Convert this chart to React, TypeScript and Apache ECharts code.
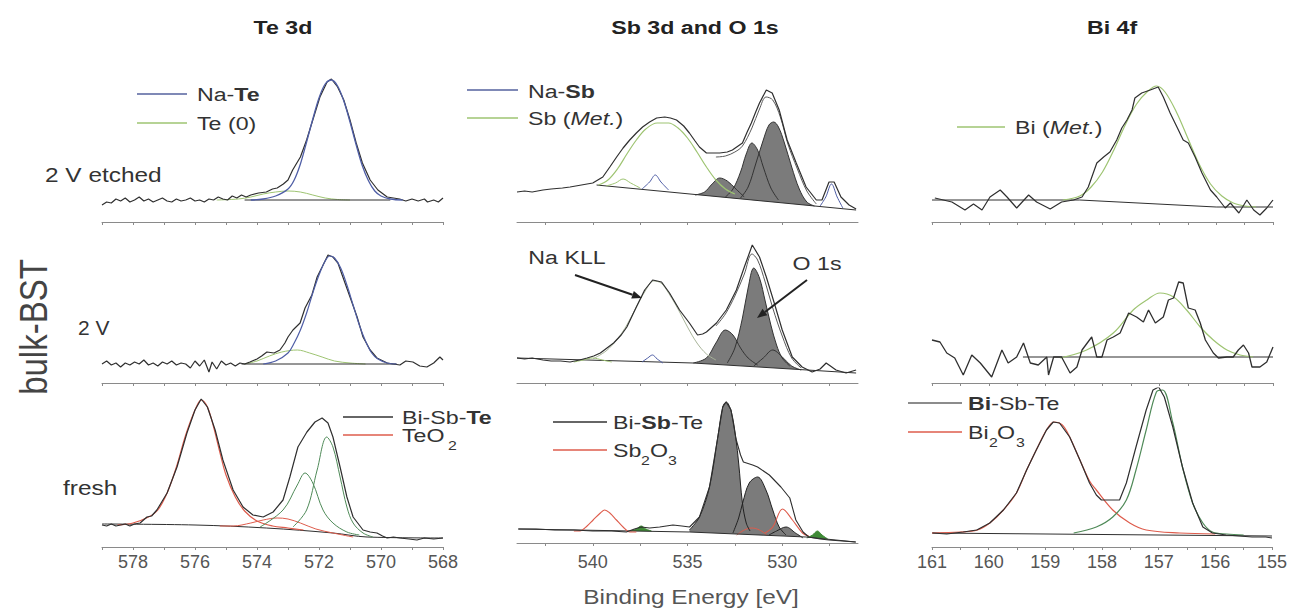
import React, { useEffect, useRef } from 'react';
import * as echarts from 'echarts';

// ---------------- axes ----------------
const teTicks = [568, 569, 570, 571, 572, 573, 574, 575, 576, 577, 578, 579];
const teLabels = [568, 570, 572, 574, 576, 578];
const sbTicks = [527.5, 530, 532.5, 535, 537.5, 540, 542.5];
const sbLabels = [530, 535, 540];
const biTicks = [155, 155.5, 156, 156.5, 157, 157.5, 158, 158.5, 159, 159.5, 160, 160.5, 161];
const biLabels = [155, 156, 157, 158, 159, 160, 161];

const columnTitles = ['Te 3d', 'Sb 3d and O 1s', 'Bi 4f'];
const rowLabels = ['2 V etched', '2 V', 'fresh'];

// ---------------- Te 3d, 2 V etched ----------------
const teEtchedMeasured = [
  [579.0, 17], [578.85, 20], [578.7, 19], [578.55, 23], [578.4, 21], [578.25, 24], [578.1, 20], [577.95, 22],
  [577.8, 25], [577.65, 21], [577.5, 23], [577.35, 20], [577.2, 22], [577.05, 24], [576.9, 21], [576.75, 20],
  [576.6, 23], [576.45, 21], [576.3, 22], [576.15, 24], [576.0, 21], [575.85, 22], [575.7, 20], [575.55, 23],
  [575.4, 22], [575.25, 25], [575.1, 23], [574.95, 22], [574.8, 26], [574.65, 24], [574.5, 27], [574.35, 25],
  [574.2, 27], [573.95, 29], [573.7, 30], [573.5, 33], [573.35, 34], [573.15, 38], [573.0, 42], [572.85, 52],
  [572.6, 65], [572.4, 82], [572.2, 102], [571.97, 125], [571.74, 140], [571.6, 143], [571.4, 135], [571.2, 122],
  [571.0, 102], [570.8, 79], [570.6, 59], [570.35, 42], [570.1, 32], [569.8, 25], [569.6, 24], [569.4, 23],
  [569.2, 21], [569.0, 23], [568.8, 21], [568.6, 23], [568.5, 20], [568.3, 22], [568.15, 20], [568.0, 24],
];
const teEtchedNaTe = [
  [574.2, 22], [573.8, 23], [573.4, 26], [573.0, 33], [572.8, 42], [572.6, 58], [572.4, 80], [572.2, 103],
  [572.0, 124], [571.8, 138], [571.6, 142], [571.4, 136], [571.2, 121], [571.0, 100], [570.8, 77], [570.6, 56],
  [570.4, 41], [570.2, 31], [570.0, 26], [569.7, 23], [569.3, 22],
];
const teEtchedTe0 = [
  [575.3, 22], [574.6, 23], [574.2, 25], [573.8, 28], [573.4, 30], [573.0, 31], [572.6, 30], [572.2, 27],
  [571.8, 24], [571.4, 22.5], [571.0, 22],
];
const teEtchedBackground = [[574.4, 22], [569.7, 22]];

// ---------------- Te 3d, 2 V ----------------
const te2vMeasured = [
  [579.0, 19], [578.85, 22], [578.7, 18], [578.55, 20], [578.4, 16], [578.25, 20], [578.1, 18], [577.95, 21],
  [577.8, 19], [577.65, 23], [577.5, 18], [577.35, 20], [577.2, 17], [577.05, 21], [576.9, 19], [576.75, 22],
  [576.6, 18], [576.45, 20], [576.3, 19], [576.15, 15], [576.0, 22], [575.85, 17], [575.7, 23], [575.55, 11],
  [575.45, 21], [575.3, 14], [575.15, 22], [575.0, 18], [574.85, 20], [574.7, 17], [574.55, 20], [574.4, 19],
  [574.23, 21], [574.0, 24], [573.85, 27], [573.68, 31], [573.45, 30], [573.26, 33], [573.1, 40], [573.0, 46],
  [572.84, 53], [572.61, 60], [572.45, 75], [572.23, 88], [572.06, 106], [571.9, 116], [571.71, 128], [571.55, 126],
  [571.39, 120], [571.23, 106], [571.0, 86], [570.77, 66], [570.58, 46], [570.35, 33], [570.13, 25], [569.8, 20],
  [569.6, 19], [569.39, 18], [569.2, 22], [568.97, 21], [568.75, 17], [568.52, 16], [568.3, 20], [568.1, 26], [568.0, 23],
];
const te2vNaTe = [
  [573.8, 19], [573.4, 22], [573.0, 30], [572.8, 40], [572.6, 53], [572.4, 70], [572.2, 90], [572.0, 108],
  [571.8, 122], [571.65, 127], [571.5, 125], [571.3, 115], [571.1, 98], [570.9, 78], [570.7, 58], [570.5, 42],
  [570.3, 30], [570.1, 24], [569.8, 20], [569.5, 19],
];
const te2vTe0 = [
  [574.4, 19], [574.0, 22], [573.6, 27], [573.2, 31], [572.7, 33], [572.3, 30], [571.9, 26], [571.5, 22],
  [571.0, 20], [570.5, 19],
];
const te2vBackground = [[574.5, 19], [569.5, 19]];

// ---------------- Te 3d, fresh ----------------
const teFreshMeasured = [
  [579.0, 22], [578.85, 21], [578.7, 23], [578.55, 21], [578.4, 22], [578.25, 23], [578.1, 21], [577.95, 23],
  [577.77, 24], [577.55, 30], [577.4, 31], [577.23, 37], [576.9, 54], [576.58, 80], [576.26, 114], [576.0, 137],
  [575.8, 148], [575.6, 140], [575.35, 117], [575.1, 87], [574.77, 57], [574.45, 40], [574.13, 32], [573.8, 30],
  [573.48, 35], [573.16, 47], [572.94, 70], [572.68, 100], [572.39, 115], [572.13, 125], [571.9, 129], [571.71, 124],
  [571.55, 110], [571.32, 80], [571.1, 50], [570.9, 30], [570.58, 17], [570.35, 15], [570.13, 14], [569.95, 11],
  [569.8, 9], [569.6, 10], [569.39, 9], [569.1, 8], [568.84, 7], [568.6, 9], [568.3, 8], [568.0, 9],
];
const teFreshTeO2 = [
  [578.5, 22], [578.0, 24], [577.5, 30], [577.2, 37], [576.9, 54], [576.6, 80], [576.3, 112], [576.0, 137],
  [575.8, 147], [575.6, 140], [575.4, 120], [575.2, 95], [575.0, 72], [574.7, 50], [574.4, 36], [574.0, 26],
  [573.5, 21], [573.0, 19], [572.5, 17],
];
const teFreshTeO2Minor = [
  [575.2, 21], [574.77, 21], [574.2, 24], [573.8, 27], [573.35, 29], [573.0, 28], [572.6, 24], [572.1, 18],
  [571.55, 14], [570.9, 10],
];
const teFreshBstA = [
  [573.9, 20], [573.16, 37], [572.7, 62], [572.45, 74], [572.2, 64], [571.87, 37], [571.55, 24], [571.1, 15], [570.7, 12],
];
const teFreshBstB = [
  [572.84, 20], [572.4, 37], [572.06, 77], [571.75, 110], [571.55, 100], [571.32, 70], [571.1, 40], [570.9, 24],
  [570.58, 14], [570.26, 10],
];
const teFreshBackground = [[579.0, 23], [576.0, 22], [573.7, 19], [571.55, 14], [570.45, 10], [568.0, 9]];

// ---------------- Sb 3d / O 1s, 2 V etched ----------------
const sbEtchedMeasured = [
  [544.0, 30], [543.6, 31], [543.2, 30], [542.63, 32], [542.2, 33], [541.6, 34], [541.2, 35], [540.6, 37],
  [540.0, 39], [539.47, 45], [539.1, 55], [538.74, 65], [538.4, 74], [538.05, 82], [537.7, 89], [537.37, 95],
  [537.0, 100], [536.63, 104], [536.2, 105], [535.9, 104], [535.58, 102], [535.2, 96], [534.9, 89], [534.6, 81],
  [534.37, 75], [534.0, 69], [533.6, 69], [533.3, 69], [532.9, 70], [532.63, 72], [532.1, 79], [531.85, 90],
  [531.63, 99], [531.4, 110], [531.2, 119], [530.84, 132], [530.53, 129], [530.16, 112], [529.74, 82], [529.26, 59],
  [528.74, 35], [528.2, 22], [527.9, 22], [527.53, 40], [527.26, 40], [526.9, 25], [526.47, 17], [526.1, 13],
];
const sbEtchedEnvelope = [
  [533.5, 65], [533.0, 66], [532.5, 70], [532.1, 76], [531.6, 94], [531.2, 113], [530.85, 125], [530.5, 122],
  [530.1, 105], [529.7, 78], [529.2, 53], [528.7, 31], [528.2, 18],
];
const sbEtchedSbMet = [
  [539.7, 37], [539.2, 42], [538.7, 53], [538.2, 68], [537.7, 82], [537.2, 93], [536.6, 99], [536.0, 99],
  [535.5, 94], [535.0, 84], [534.5, 70], [534.0, 55], [533.5, 42], [533.0, 33], [532.5, 28],
];
const sbEtchedSbMetMinor = [[539.3, 36], [538.8, 39], [538.4, 43], [538.0, 39], [537.5, 34]];
const sbEtchedNaSb = [[537.4, 33], [537.0, 40], [536.7, 47], [536.4, 40], [536.0, 32]];
const sbEtchedNaSbMinor = [[528.0, 16], [527.7, 25], [527.4, 38], [527.1, 25], [526.8, 14]];
const sbEtchedO1sA = [[534.6, 27], [534.1, 30], [533.7, 38], [533.3, 44], [532.9, 41], [532.5, 34], [532.0, 25]];
const sbEtchedO1sB = [
  [533.0, 25], [532.6, 33], [532.2, 50], [531.9, 68], [531.6, 79], [531.3, 72], [531.0, 55], [530.6, 34], [530.2, 22],
];
const sbEtchedO1sC = [
  [532.2, 24], [531.8, 35], [531.4, 58], [531.0, 82], [530.7, 97], [530.45, 100], [530.2, 95], [529.9, 80],
  [529.5, 55], [529.1, 33], [528.7, 20], [528.3, 16],
];
const sbEtchedBackground = [[539.8, 37], [526.1, 12]];

// ---------------- Sb 3d / O 1s, 2 V ----------------
const sb2vMeasured = [
  [544.0, 25], [543.6, 24], [543.2, 25], [542.63, 23], [542.2, 22], [541.7, 22], [541.2, 21], [540.7, 23],
  [540.3, 25], [539.95, 27], [539.6, 30], [538.9, 40], [538.5, 48], [538.2, 56], [537.7, 76], [537.26, 93],
  [536.84, 103], [536.6, 102], [536.37, 101], [535.95, 90], [535.42, 73], [534.9, 60], [534.47, 48], [534.2, 49],
  [534.0, 51], [533.47, 60], [532.95, 73], [532.42, 93], [532.0, 116], [531.58, 138], [531.2, 126], [530.84, 106],
  [530.42, 80], [530.0, 53], [529.47, 26], [528.95, 16], [528.42, 11], [528.0, 14], [527.68, 20], [527.16, 13],
  [526.63, 10], [526.1, 13],
];
const sb2vEnvelope = [
  [533.5, 57], [533.0, 69], [532.5, 87], [532.0, 109], [531.6, 129], [531.3, 123], [530.9, 101], [530.5, 75],
  [530.0, 47], [529.5, 25], [529.0, 15],
];
const sb2vNaKLL = [
  [540.0, 24], [539.3, 32], [538.7, 44], [538.2, 58], [537.7, 76], [537.2, 93], [536.8, 102], [536.4, 100],
  [536.0, 90], [535.5, 74], [535.0, 56], [534.5, 40], [534.0, 29], [533.5, 23],
];
const sb2vSbMet = [[541.0, 21], [540.5, 23], [540.0, 25], [539.5, 23], [539.0, 21]];
const sb2vNaSb = [[537.4, 21], [537.1, 25], [536.85, 28], [536.6, 24], [536.3, 20]];
const sb2vO1sA = [[534.7, 20], [534.0, 25], [533.5, 40], [533.0, 53], [532.6, 48], [532.2, 35], [531.8, 25], [531.3, 18]];
const sb2vO1sB = [
  [532.9, 20], [532.5, 35], [532.1, 65], [531.8, 95], [531.5, 115], [531.2, 105], [530.9, 82], [530.6, 58],
  [530.3, 38], [530.0, 25], [529.6, 17],
];
const sb2vO1sC = [[531.5, 17], [531.0, 25], [530.5, 33], [530.0, 26], [529.5, 17], [529.0, 13]];
const sb2vBackground = [[544.0, 25], [534.7, 20], [526.1, 10]];

// ---------------- Sb 3d / O 1s, fresh ----------------
const sbFreshMeasured = [
  [543.93, 14], [543.0, 14], [542.0, 13], [541.0, 13], [540.0, 12], [539.0, 12], [538.23, 11], [537.8, 14],
  [537.44, 16], [537.0, 15], [536.47, 16], [535.77, 18], [535.3, 17], [534.89, 16], [534.37, 26], [533.84, 56],
  [533.4, 106], [533.14, 136], [532.96, 141], [532.7, 133], [532.44, 104], [532.2, 88], [532.05, 81], [531.56, 78],
  [531.3, 76], [530.68, 68], [530.07, 56], [529.6, 45], [529.28, 23], [528.9, 11], [528.6, 6], [528.0, 4],
  [527.53, 3], [526.12, 1],
];
const sbFreshBstA = [
  [534.9, 13], [534.37, 26], [533.84, 56], [533.4, 106], [533.14, 136], [532.96, 141], [532.7, 132], [532.45, 105],
  [532.3, 80], [532.1, 40], [531.9, 20], [531.7, 12],
];
const sbFreshBstB = [
  [532.6, 10], [532.3, 25], [532.09, 40], [531.74, 60], [531.3, 66], [530.86, 53], [530.5, 33], [530.16, 16], [529.8, 8],
];
const sbFreshBstC = [[530.7, 8], [530.3, 12], [529.8, 16], [529.3, 10], [528.9, 5]];
const sbFreshSb2O3 = [
  [541.0, 12], [540.68, 12], [540.3, 17], [539.98, 23], [539.6, 30], [539.37, 33], [539.1, 30], [538.75, 23],
  [538.4, 16], [538.05, 11], [537.7, 11],
];
const sbFreshSb2O3Minor = [[530.9, 10], [530.5, 16], [529.98, 34], [529.46, 23], [528.93, 10], [528.6, 7]];
const sbFreshPink = [[532.4, 8], [532.0, 13], [531.6, 15], [531.2, 13], [530.8, 8]];
const sbFreshGreenA = [[538.0, 12], [537.7, 14], [537.44, 17], [537.2, 14], [536.9, 12]];
const sbFreshGreenB = [[528.7, 5], [528.4, 8], [528.14, 12], [527.9, 8], [527.6, 4]];
const sbFreshBackground = [[543.93, 14], [534.89, 11], [528.75, 6], [526.12, 1]];

// ---------------- Bi 4f, 2 V etched ----------------
const biEtchedMeasured = [
  [160.95, 24], [160.65, 20], [160.42, 12], [160.27, 18], [160.12, 12], [159.98, 25], [159.8, 32], [159.68, 25],
  [159.51, 14], [159.3, 27], [159.16, 20], [158.92, 13], [158.72, 20], [158.51, 22], [158.36, 25], [158.25, 35],
  [158.1, 59], [157.98, 65], [157.87, 70], [157.75, 82], [157.66, 94], [157.57, 102], [157.48, 112], [157.43, 124],
  [157.31, 129], [157.16, 132], [157.02, 135], [156.93, 125], [156.81, 109], [156.69, 95], [156.58, 82], [156.49, 79],
  [156.37, 65], [156.25, 49], [156.1, 32], [155.99, 25], [155.84, 14], [155.75, 19], [155.6, 9], [155.46, 22],
  [155.34, 12], [155.23, 7], [155.11, 14], [155.0, 22],
];
const biEtchedBiMet = [
  [158.7, 22], [158.4, 26], [158.2, 35], [158.0, 50], [157.8, 72], [157.6, 97], [157.4, 118], [157.2, 131],
  [157.05, 136], [156.9, 130], [156.7, 110], [156.5, 84], [156.3, 58], [156.1, 38], [155.9, 26], [155.7, 19],
  [155.5, 16], [155.3, 15],
];
const biEtchedBackground = [[161.0, 22], [158.4, 22], [156.0, 15], [155.0, 15]];

// ---------------- Bi 4f, 2 V ----------------
const bi2vMeasured = [
  [161.0, 43], [160.86, 41], [160.74, 30], [160.6, 25], [160.45, 8], [160.3, 28], [160.15, 20], [159.95, 6],
  [159.77, 33], [159.66, 20], [159.51, 26], [159.39, 40], [159.27, 20], [159.13, 18], [158.98, 26], [158.95, 8],
  [158.86, 26], [158.72, 26], [158.57, 10], [158.45, 16], [158.36, 33], [158.19, 46], [158.1, 26], [158.01, 26],
  [157.92, 43], [157.81, 46], [157.69, 50], [157.54, 70], [157.4, 66], [157.28, 61], [157.19, 73], [157.07, 60],
  [156.93, 66], [156.84, 83], [156.75, 85], [156.66, 101], [156.58, 100], [156.49, 75], [156.37, 73], [156.28, 60],
  [156.19, 43], [156.05, 30], [155.96, 25], [155.81, 26], [155.7, 26], [155.61, 33], [155.52, 38], [155.43, 30],
  [155.37, 16], [155.23, 16], [155.11, 21], [155.0, 36],
];
const bi2vBiMet = [
  [158.75, 25], [158.28, 33], [157.81, 50], [157.46, 73], [157.22, 83], [156.99, 90], [156.75, 86], [156.52, 73],
  [156.28, 56], [156.05, 43], [155.81, 33], [155.58, 28], [155.35, 26],
];
const bi2vBackground = [[159.4, 26], [155.0, 26]];

// ---------------- Bi 4f, fresh ----------------
const biFreshMeasured = [
  [160.99, 14], [160.74, 13], [160.45, 15], [160.21, 17], [159.98, 24], [159.74, 37], [159.51, 54], [159.33, 77],
  [159.16, 97], [158.98, 117], [158.86, 125], [158.75, 124], [158.57, 110], [158.39, 87], [158.22, 64], [158.1, 52],
  [158.01, 47], [157.69, 47], [157.57, 64], [157.4, 100], [157.22, 137], [157.1, 157], [157.0, 160], [156.9, 150],
  [156.75, 120], [156.58, 80], [156.4, 44], [156.22, 20], [156.05, 14], [155.81, 12], [155.58, 11], [155.35, 10],
  [155.11, 10], [155.0, 9],
];
const biFreshBi2O3 = [
  [161.0, 14], [160.5, 15], [160.2, 17], [159.98, 24], [159.74, 37], [159.51, 54], [159.33, 77], [159.16, 97],
  [158.98, 117], [158.85, 125], [158.7, 122], [158.57, 110], [158.39, 87], [158.22, 66], [158.1, 57], [157.81, 37],
  [157.51, 24], [157.22, 17], [156.63, 14], [156.0, 13],
];
const biFreshBst = [
  [158.5, 14], [158.1, 20], [157.81, 30], [157.57, 47], [157.4, 77], [157.22, 117], [157.04, 155], [156.93, 157],
  [156.75, 124], [156.58, 80], [156.4, 44], [156.22, 24], [156.05, 15], [155.8, 13], [155.5, 12],
];
const biFreshBackground = [[161.0, 14], [155.0, 11]];

// ---------------- styling ----------------
const FONT = '"Liberation Sans", Arial, Helvetica, sans-serif';
const COL = {
  meas: '#2f2f2f',
  blue: '#4f5ea6',
  blueLegend: '#7f89b6',
  lgreen: '#9ec472',
  dgreen: '#4f8a58',
  red: '#de5c4c',
  gray: '#7b7b7b',
  pink: '#c98c96',
  fgreen: '#3f8a36',
  env: '#5a5a5a',
  axis: '#8a8a8a',
};
const COLUMNS = [
  { left: 102, min: 568, max: 579, ticks: teTicks, labels: teLabels },
  { left: 517, min: 526, max: 544, ticks: sbTicks, labels: sbLabels },
  { left: 932, min: 155, max: 161, ticks: biTicks, labels: biLabels },
];
const ROWS = [
  { top: 60, bottom: 222 },
  { top: 228, bottom: 383 },
  { top: 388, bottom: 547 },
];
const PANEL_W = 341;

function panelBottom(row: number, col: number) {
  if (row === 2 && col === 1) return 543;
  return ROWS[row].bottom;
}

function buildOption() {
  const grid: any[] = [];
  const xAxis: any[] = [];
  const yAxis: any[] = [];
  for (let r = 0; r < 3; r++) {
    for (let c = 0; c < 3; c++) {
      const col = COLUMNS[c];
      const bottom = panelBottom(r, c);
      const h = bottom - ROWS[r].top;
      const idx = r * 3 + c;
      grid.push({ left: col.left, top: ROWS[r].top, width: PANEL_W, height: h });
      xAxis.push({
        gridIndex: idx,
        type: 'value',
        inverse: true,
        min: col.min,
        max: col.max,
        z: 10,
        axisLine: { show: true, onZero: false, lineStyle: { color: COL.axis, width: 1 } },
        axisTick: { show: true, customValues: col.ticks, length: 3, inside: false, lineStyle: { color: COL.axis } },
        axisLabel: {
          show: r === 2,
          customValues: col.labels,
          fontSize: 18,
          fontFamily: FONT,
          color: '#555',
          margin: r === 2 && c === 1 ? 10 : 6,
        },
        splitLine: { show: false },
      });
      yAxis.push({ gridIndex: idx, type: 'value', min: 0, max: h, show: false });
    }
  }

  const series: any[] = [];
  const line = (g: number, data: number[][], color: string, width = 1, smooth = false, z = 3) => {
    series.push({
      type: 'line', xAxisIndex: g, yAxisIndex: g, data, symbol: 'none', showSymbol: false,
      smooth: smooth ? 0.35 : false, lineStyle: { color, width }, z, silent: true,
    });
  };
  const fill = (g: number, data: number[][], fillColor: string, outline: string) => {
    series.push({
      type: 'line', xAxisIndex: g, yAxisIndex: g, data, symbol: 'none', showSymbol: false,
      smooth: 0.35, lineStyle: { width: 0, color: fillColor }, areaStyle: { color: fillColor, opacity: 1 }, z: 1, silent: true,
    });
    line(g, data, outline, 1, true, 3);
  };
  const cover = (g: number, data: number[][]) => {
    series.push({
      type: 'line', xAxisIndex: g, yAxisIndex: g, data, symbol: 'none', showSymbol: false,
      lineStyle: { width: 0, color: '#fff' }, areaStyle: { color: '#ffffff', opacity: 1 }, z: 2, silent: true,
    });
  };

  // Te 3d etched (grid 0)
  line(0, teEtchedTe0, COL.lgreen, 1, true);
  line(0, teEtchedBackground, COL.meas, 1);
  line(0, teEtchedMeasured, COL.meas, 1.2);
  line(0, teEtchedNaTe, COL.blue, 1.3, true);
  // Te 3d 2 V (grid 3)
  line(3, te2vTe0, COL.lgreen, 1, true);
  line(3, te2vBackground, COL.meas, 1);
  line(3, te2vMeasured, COL.meas, 1.2);
  line(3, te2vNaTe, COL.blue, 1.2, true);
  // Te 3d fresh (grid 6)
  line(6, teFreshBackground, COL.meas, 1, true);
  line(6, teFreshTeO2Minor, COL.red, 1, true);
  line(6, teFreshTeO2, COL.red, 1.2, true);
  line(6, teFreshBstA, COL.dgreen, 1, true);
  line(6, teFreshBstB, COL.dgreen, 1, true);
  line(6, teFreshMeasured, COL.meas, 1.2);

  // Sb etched (grid 1)
  fill(1, sbEtchedO1sA, COL.gray, '#333');
  fill(1, sbEtchedO1sB, COL.gray, '#333');
  fill(1, sbEtchedO1sC, COL.gray, '#333');
  cover(1, sbEtchedBackground);
  line(1, sbEtchedBackground, COL.meas, 1);
  line(1, sbEtchedSbMet, COL.lgreen, 1.2, true);
  line(1, sbEtchedSbMetMinor, COL.lgreen, 1, true);
  line(1, sbEtchedNaSb, COL.blue, 1, true);
  line(1, sbEtchedNaSbMinor, COL.blue, 1, true);
  line(1, sbEtchedEnvelope, COL.env, 1, true);
  line(1, sbEtchedMeasured, COL.meas, 1.2);

  // Sb 2 V (grid 4)
  fill(4, sb2vO1sA, COL.gray, '#333');
  fill(4, sb2vO1sB, COL.gray, '#333');
  fill(4, sb2vO1sC, COL.gray, '#333');
  cover(4, sb2vBackground);
  line(4, sb2vBackground, COL.meas, 1);
  line(4, sb2vSbMet, COL.lgreen, 1, true);
  line(4, sb2vNaSb, COL.blue, 1, true);
  line(4, sb2vNaKLL, '#a9b59a', 1, true);
  line(4, sb2vEnvelope, COL.env, 1, true);
  line(4, sb2vMeasured, COL.meas, 1.2);

  // Sb fresh (grid 7)
  fill(7, sbFreshPink, COL.pink, COL.red);
  fill(7, sbFreshBstA, COL.gray, '#222');
  fill(7, sbFreshBstB, COL.gray, '#222');
  fill(7, sbFreshBstC, COL.gray, '#222');
  fill(7, sbFreshGreenA, COL.fgreen, COL.fgreen);
  fill(7, sbFreshGreenB, COL.fgreen, COL.fgreen);
  cover(7, sbFreshBackground);
  line(7, sbFreshBackground, COL.meas, 1);
  line(7, sbFreshSb2O3, COL.red, 1.1, true);
  line(7, sbFreshSb2O3Minor, COL.red, 1.1, true);
  line(7, sbFreshMeasured, COL.meas, 1.1);

  // Bi etched (grid 2)
  line(2, biEtchedBackground, COL.meas, 1);
  line(2, biEtchedBiMet, COL.lgreen, 1.2, true);
  line(2, biEtchedMeasured, COL.meas, 1.2);
  // Bi 2 V (grid 5)
  line(5, bi2vBackground, COL.meas, 1.2);
  line(5, bi2vBiMet, COL.lgreen, 1.2, true);
  line(5, bi2vMeasured, COL.meas, 1.3);
  // Bi fresh (grid 8)
  line(8, biFreshBackground, COL.meas, 1);
  line(8, biFreshBi2O3, COL.red, 1.2, true);
  line(8, biFreshBst, COL.dgreen, 1.2, true);
  line(8, biFreshMeasured, COL.meas, 1.2);

  // ---------------- annotations ----------------
  const SX = 1.22;
  const txt = (x: number, y: number, text: string, o: any = {}) => ({
    type: 'text', x, y, scaleX: o.scaleX ?? SX, scaleY: o.scaleY ?? 1, rotation: o.rotation ?? 0, z: 20,
    style: {
      text, fill: o.color ?? '#333', fontSize: o.size ?? 19, fontFamily: FONT, fontWeight: o.weight ?? 'normal',
      textAlign: o.align ?? 'left', align: o.align ?? 'left', textVerticalAlign: 'middle', verticalAlign: 'middle',
      rich: {
        b: { fontWeight: 'bold', fontSize: o.size ?? 19, fontFamily: FONT, fill: o.color ?? '#333' },
        i: { fontStyle: 'italic', fontSize: o.size ?? 19, fontFamily: FONT, fill: o.color ?? '#333' },
      },
    },
  });
  const sub = (x: number, y: number, text: string) => txt(x, y, text, { size: 13 });
  const seg = (x1: number, y1: number, x2: number, y2: number, color: string, w = 1.5) => ({
    type: 'line', z: 20, shape: { x1, y1, x2, y2 }, style: { stroke: color, lineWidth: w },
  });
  const arrow = (x1: number, y1: number, x2: number, y2: number) => {
    const dx = x2 - x1, dy = y2 - y1;
    const L = Math.hypot(dx, dy);
    const ux = dx / L, uy = dy / L;
    const bx = x2 - ux * 10, by = y2 - uy * 10;
    const nx = -uy, ny = ux;
    return [
      seg(x1, y1, bx, by, '#222', 2),
      { type: 'polygon', z: 20, shape: { points: [[x2, y2], [bx + nx * 4, by + ny * 4], [bx - nx * 4, by - ny * 4]] }, style: { fill: '#222' } },
    ];
  };

  const graphic: any[] = [
    txt(283, 27, columnTitles[0], { weight: 'bold', align: 'center', color: '#222', size: 19 }),
    txt(695, 27, columnTitles[1], { weight: 'bold', align: 'center', color: '#222', size: 19 }),
    txt(1112, 27, columnTitles[2], { weight: 'bold', align: 'center', color: '#222', size: 19 }),

    txt(45, 175, rowLabels[0], { size: 20 }),
    txt(78, 328, rowLabels[1], { size: 20, scaleX: 1.05 }),
    txt(63, 488, rowLabels[2], { size: 20 }),

    txt(33, 327, 'bulk-BST', { size: 33, align: 'center', rotation: Math.PI / 2, scaleX: 1, scaleY: 1.2, color: '#444' }),
    txt(691, 597, 'Binding Energy [eV]', { size: 20, align: 'center', color: '#555' }),

    // Te legends
    seg(137, 94, 187, 94, COL.blueLegend, 2),
    txt(197, 94, 'Na-{b|Te}'),
    seg(137, 123, 187, 123, COL.lgreen, 1.5),
    txt(197, 123, 'Te (0)'),
    seg(343, 417, 393, 417, '#333', 1.5),
    txt(402, 417, 'Bi-Sb-{b|Te}'),
    seg(343, 435, 393, 435, COL.red, 1.5),
    txt(402, 435, 'TeO'),
    sub(448, 446, '2'),

    // Sb legends
    seg(467, 90, 518, 90, COL.blueLegend, 2),
    txt(528, 91, 'Na-{b|Sb}'),
    seg(467, 118, 518, 118, COL.lgreen, 1.5),
    txt(528, 118, 'Sb ({i|Met.})'),
    txt(567, 257, 'Na KLL', { align: 'center' }),
    txt(817, 263, 'O 1s', { align: 'center' }),
    ...arrow(575, 275, 642, 298),
    ...arrow(807, 280, 757, 318),
    seg(553, 422, 607, 422, '#333', 1.5),
    txt(613, 422, 'Bi-{b|Sb}-Te'),
    seg(553, 450, 607, 450, COL.red, 1.5),
    txt(613, 450, 'Sb'),
    sub(641, 461, '2'),
    txt(650, 450, 'O'),
    sub(668, 461, '3'),

    // Bi legends
    seg(957, 127, 1005, 127, COL.lgreen, 1.5),
    txt(1015, 127, 'Bi ({i|Met.})'),
    seg(908, 403, 962, 403, '#666', 1.5),
    txt(968, 403, '{b|Bi}-Sb-Te'),
    seg(908, 432, 962, 432, COL.red, 1.5),
    txt(968, 432, 'Bi'),
    sub(989, 443, '2'),
    txt(997, 432, 'O'),
    sub(1016, 443, '3'),
  ];

  return { animation: false, backgroundColor: '#ffffff', grid, xAxis, yAxis, series, graphic };
}

export default function App() {
  const ref = useRef<HTMLDivElement>(null);
  useEffect(() => {
    document.body.style.margin = '0';
    const chart = echarts.init(ref.current!, null, { renderer: 'svg' });
    chart.setOption(buildOption());
    return () => chart.dispose();
  }, []);
  return (
    <div
      ref={ref}
      style={{ position: 'absolute', left: 0, top: 0, width: 1290, height: 610, background: '#fff' }}
    />
  );
}
